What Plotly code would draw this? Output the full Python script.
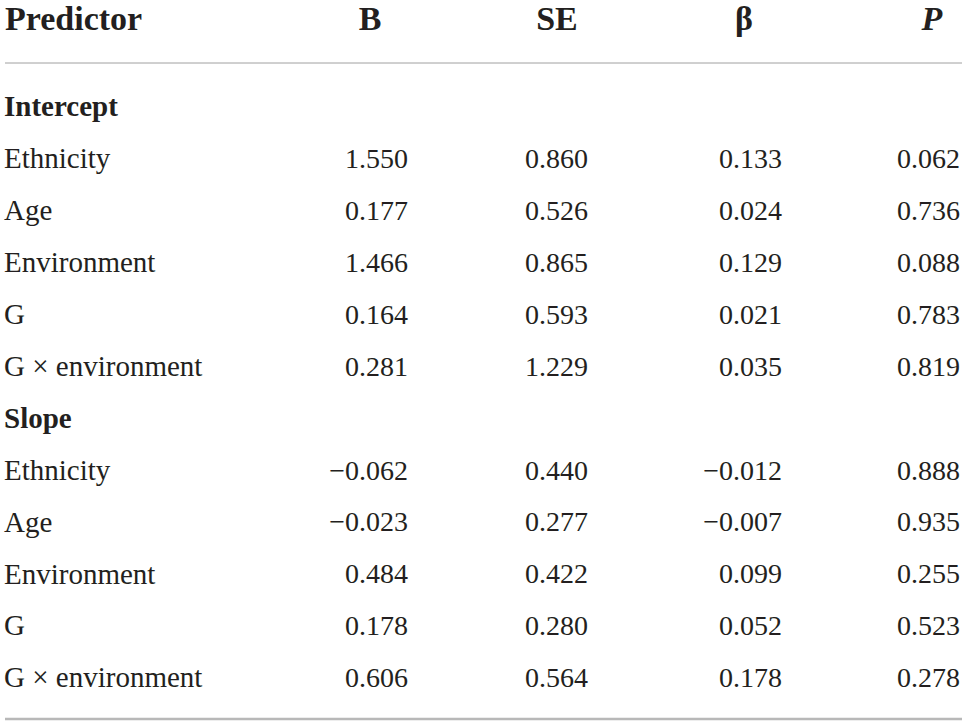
import plotly.graph_objects as go

headers = ["Predictor", "B", "SE", "β", "<i>P</i>"]

sections = ["Intercept", "Slope"]
predictors = ["Ethnicity", "Age", "Environment", "G", "G × environment"]

b_values = [1.550, 0.177, 1.466, 0.164, 0.281,
            -0.062, -0.023, 0.484, 0.178, 0.606]
se_values = [0.860, 0.526, 0.865, 0.593, 1.229,
             0.440, 0.277, 0.422, 0.280, 0.564]
beta_values = [0.133, 0.024, 0.129, 0.021, 0.035,
               -0.012, -0.007, 0.099, 0.052, 0.178]
p_values = [0.062, 0.736, 0.088, 0.783, 0.819,
            0.888, 0.935, 0.255, 0.523, 0.278]

FONT = "Liberation Serif"
INK = "#231f20"
W, H = 968, 725


def fmt(v):
    s = f"{abs(v):.3f}"
    return ("−" + s) if v < 0 else s


def main():
    # build row list: section heading, then its predictors
    row_labels, row_bold, row_idx = [], [], []
    k = 0
    for sec in sections:
        row_labels.append(sec)
        row_bold.append(True)
        row_idx.append(None)
        for p in predictors:
            row_labels.append(p)
            row_bold.append(False)
            row_idx.append(k)
            k += 1

    header_y = 21
    body_y0, row_h = 109.2, 51.9
    ys = [body_y0 + i * row_h for i in range(len(row_labels))]

    fig = go.Figure()

    # header
    head_x = [5, 370, 557, 744, 932]
    fig.add_trace(go.Scatter(
        x=head_x[:1], y=[header_y], mode="text", text=["<b>" + headers[0] + "</b>"],
        textposition="middle right", textfont=dict(family=FONT, size=34, color=INK),
        cliponaxis=False, hoverinfo="skip", showlegend=False))
    fig.add_trace(go.Scatter(
        x=head_x[1:], y=[header_y] * 4, mode="text",
        text=["<b>" + h + "</b>" for h in headers[1:]],
        textposition="middle center", textfont=dict(family=FONT, size=34, color=INK),
        cliponaxis=False, hoverinfo="skip", showlegend=False))

    # row labels
    fig.add_trace(go.Scatter(
        x=[4] * len(row_labels), y=ys, mode="text",
        text=[("<b>%s</b>" % t) if b else t for t, b in zip(row_labels, row_bold)],
        textposition="middle right", textfont=dict(family=FONT, size=29, color=INK),
        cliponaxis=False, hoverinfo="skip", showlegend=False))

    # numeric columns, right aligned
    col_right = [408, 588, 782, 960]
    for xr, vals in zip(col_right, [b_values, se_values, beta_values, p_values]):
        yy = [y for y, i in zip(ys, row_idx) if i is not None]
        tt = [fmt(vals[i]) for i in row_idx if i is not None]
        fig.add_trace(go.Scatter(
            x=[xr] * len(tt), y=yy, mode="text", text=tt,
            textposition="middle left", textfont=dict(family=FONT, size=28, color=INK),
            cliponaxis=False, hoverinfo="skip", showlegend=False))

    fig.add_shape(type="line", x0=5, x1=962, y0=63, y1=63, line=dict(color="#a0a0a0", width=1))
    fig.add_shape(type="line", x0=5, x1=962, y0=719, y1=719, line=dict(color="#b8b8b8", width=2.5))

    fig.update_layout(
        width=W, height=H, margin=dict(l=0, r=0, t=0, b=0),
        paper_bgcolor="white", plot_bgcolor="white",
        xaxis=dict(range=[0, W], visible=False, fixedrange=True),
        yaxis=dict(range=[H, 0], visible=False, fixedrange=True),
    )

    # drop the default 8px page margin so the figure fills the window
    fig.write_html("out.html", config={"displayModeBar": False},
                   post_script="document.body.style.margin='0';"
                               "document.body.style.overflow='hidden';")


if __name__ == "__main__":
    main()
